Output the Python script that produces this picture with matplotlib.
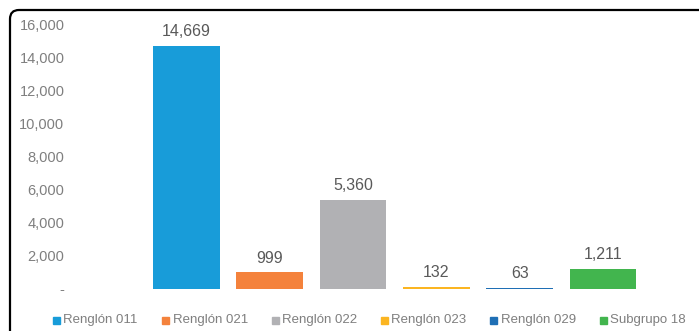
import matplotlib
matplotlib.use("Agg")
import matplotlib.pyplot as plt
from matplotlib.patches import FancyBboxPatch, Rectangle
from matplotlib.ticker import FuncFormatter

categories = ["Renglón 011", "Renglón 021", "Renglón 022", "Renglón 023", "Renglón 029", "Subgrupo 18"]
values = [14669, 999, 5360, 132, 63, 1211]
colors = ["#189cd9", "#f4823c", "#b1b1b4", "#fbb521", "#1f6fb5", "#42b54e"]
yticks = [0, 2000, 4000, 6000, 8000, 10000, 12000, 14000, 16000]

plt.rcParams['font.family'] = ['Liberation Sans', 'DejaVu Sans']

W, H = 699, 331
fig = plt.figure(figsize=(W / 100, H / 100), dpi=100)

# axes placement in pixels
left_px, right_px = 70, 690
top_px, bot_px = 24, 289
ax = fig.add_axes([left_px / W, 1 - bot_px / H, (right_px - left_px) / W, (bot_px - top_px) / H])

step = 83.3
c0 = 186.5
x = list(range(len(categories)))
ax.bar(x, values, width=0.8, color=colors, zorder=2)
ax.set_xlim((left_px - c0) / step, (right_px - c0) / step)
ax.set_ylim(0, 16000)
ax.set_yticks(yticks)
ax.yaxis.set_major_formatter(FuncFormatter(lambda v, p: "-" if v == 0 else f"{int(v):,}"))
ax.tick_params(axis='y', length=0, labelsize=10.5, labelcolor="#7f7f7f", pad=4)
ax.set_xticks([])
for s in ax.spines.values():
    s.set_visible(False)

for xi, v in zip(x, values):
    ax.annotate(f"{v:,}", (xi, v), xytext=(0, 5), textcoords="offset points",
                ha="center", va="bottom", fontsize=11.5, color="#595959")

# legend
leg_y = 320
leg_x0 = 53
leg_step = 109.3
for i, (c, lab) in enumerate(zip(colors, categories)):
    lx = leg_x0 + i * leg_step
    fig.patches.append(Rectangle((lx / W, 1 - (leg_y + 3.5) / H), 7 / W, 7 / H,
                                 transform=fig.transFigure, color=c, figure=fig))
    fig.text((lx + 10.5) / W, 1 - leg_y / H, lab, ha="left", va="center",
             fontsize=9.5, color="#7f7f7f")

# border (rounded top-left corner, right/bottom off-canvas)
border = FancyBboxPatch((10, -30), 740, H - 10 + 30,
                        boxstyle="round,pad=0,rounding_size=9",
                        transform=None, fill=False, edgecolor="black", linewidth=1.6)
fig.patches.append(border)

fig.savefig("out.png", dpi=100)
